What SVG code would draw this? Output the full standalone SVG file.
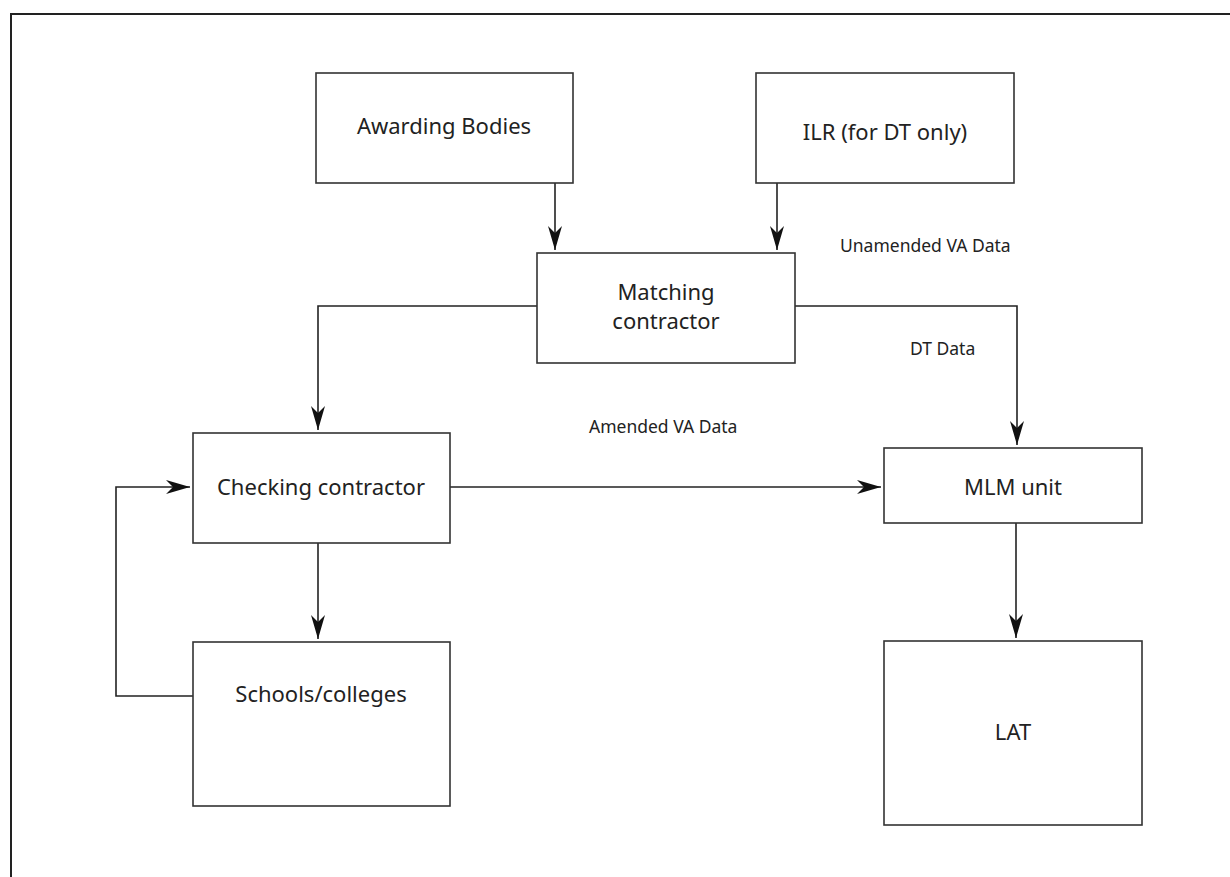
<svg xmlns="http://www.w3.org/2000/svg" width="1230" height="877" viewBox="0 0 1230 877">
<style>
.box{fill:#fff;stroke:#333;stroke-width:1.6}
.t{font-family:"Noto Sans","Open Sans",sans-serif;font-size:22px;fill:#222;text-anchor:middle}
.l{font-family:"Noto Sans","Open Sans",sans-serif;font-size:17.5px;fill:#222}
.c{fill:none;stroke:#222;stroke-width:1.6;marker-end:url(#ah)}
</style>
<defs>
<marker id="ah" markerUnits="userSpaceOnUse" viewBox="-26 -8 28 16" refX="0" refY="0" markerWidth="28" markerHeight="16" orient="auto">
<path d="M0,0 L-24,-7 L-17,0 L-24,7 Z" fill="#111"/>
</marker>
</defs>
<rect width="1230" height="877" fill="#fff"/>
<path d="M11,877 V14 H1230" fill="none" stroke="#222" stroke-width="2"/>
<g id="connectors">
<path class="c" d="M555,183 V250"/>
<path class="c" d="M777,183 V250"/>
<path class="c" d="M537,306 H318 V430"/>
<path class="c" d="M795,306 H1017 V445"/>
<path class="c" d="M450,487 H881"/>
<path class="c" d="M318,543 V639"/>
<path class="c" d="M193,696 H116 V487 H190"/>
<path class="c" d="M1016,523 V638"/>
<text class="l" x="840" y="252">Unamended VA Data</text>
<text class="l" x="910" y="355">DT Data</text>
<text class="l" x="589" y="433">Amended VA Data</text>
</g>
<g id="awarding"><rect class="box" x="316" y="73" width="257" height="110"/><text class="t" x="444" y="134">Awarding Bodies</text></g>
<g id="ilr"><rect class="box" x="756" y="73" width="258" height="110"/><text class="t" x="885" y="140">ILR (for DT only)</text></g>
<g id="matching"><rect class="box" x="537" y="253" width="258" height="110"/><text class="t" x="666" y="300">Matching</text><text class="t" x="666" y="329">contractor</text></g>
<g id="checking"><rect class="box" x="193" y="433" width="257" height="110"/><text class="t" x="321" y="495">Checking contractor</text></g>
<g id="schools"><rect class="box" x="193" y="642" width="257" height="164"/><text class="t" x="321" y="702">Schools/colleges</text></g>
<g id="mlm"><rect class="box" x="884" y="448" width="258" height="75"/><text class="t" x="1013" y="495">MLM unit</text></g>
<g id="lat"><rect class="box" x="884" y="641" width="258" height="184"/><text class="t" x="1013" y="740">LAT</text></g>
</svg>
